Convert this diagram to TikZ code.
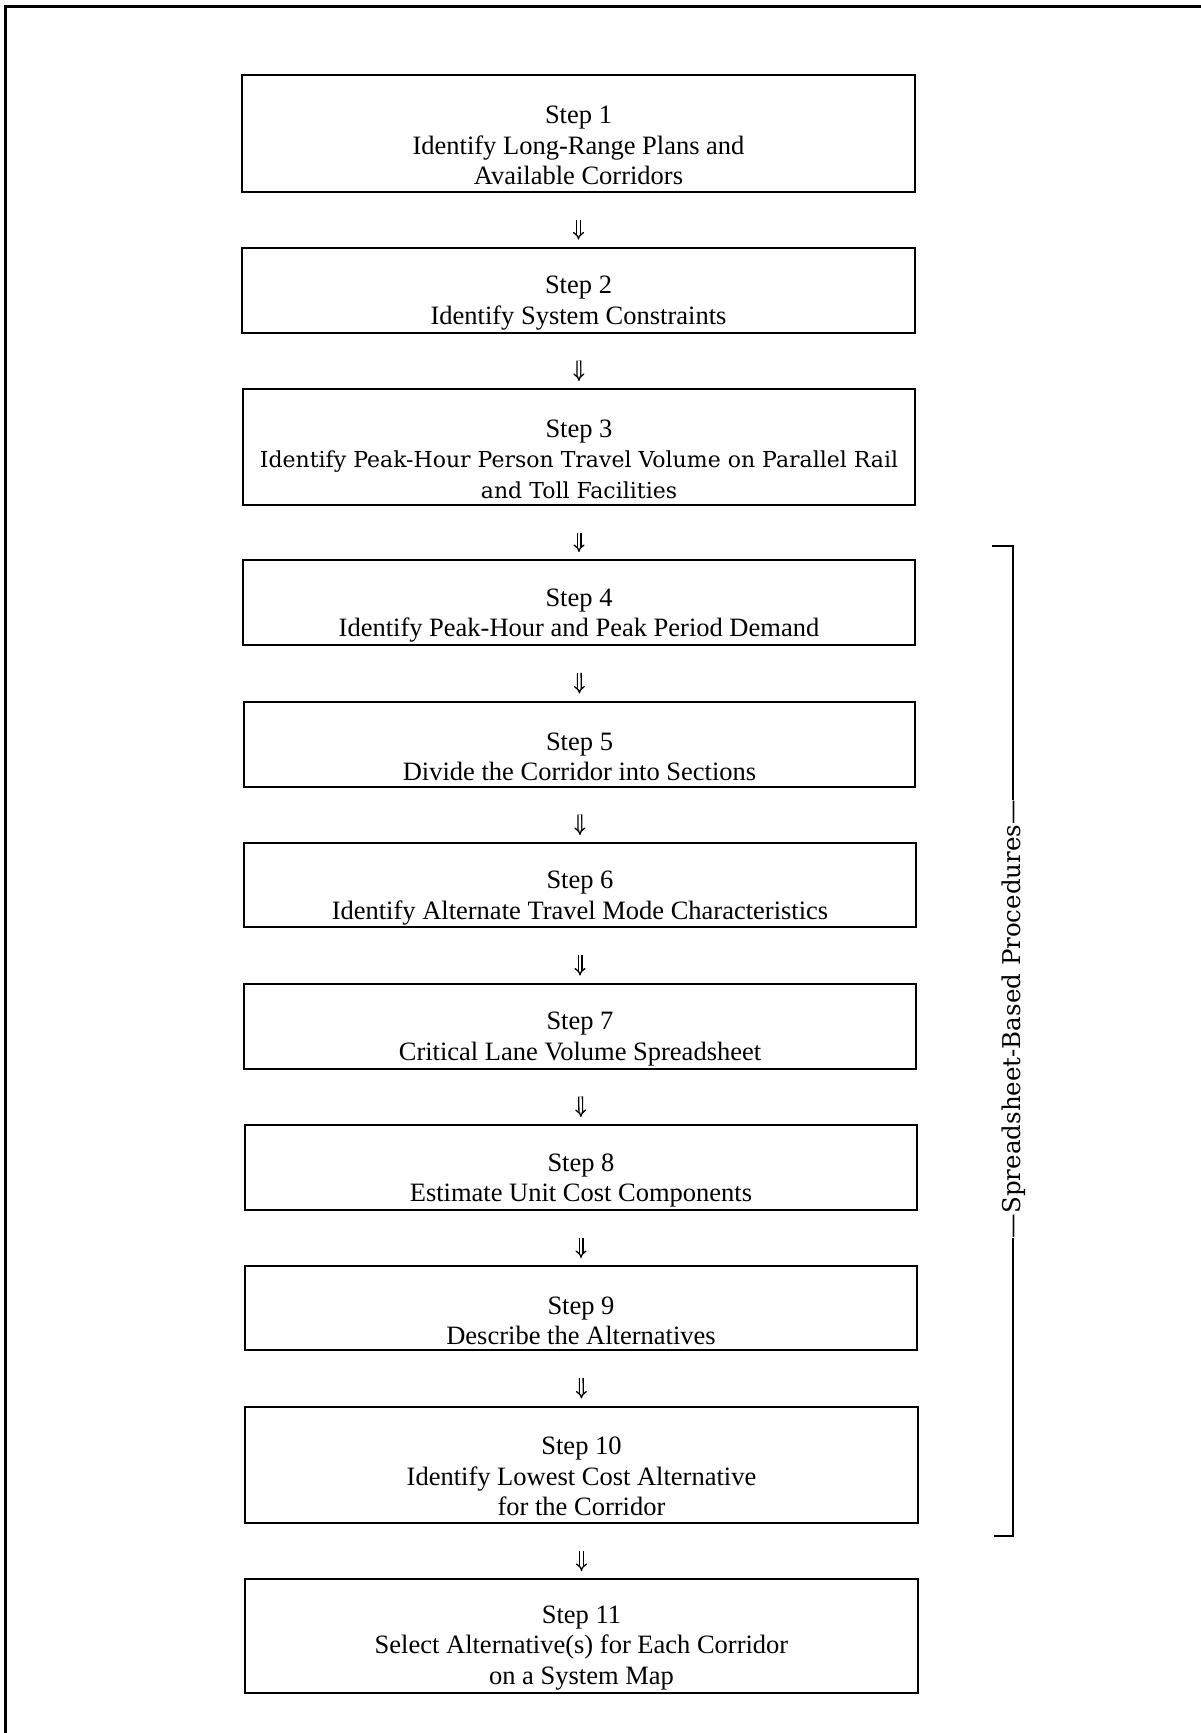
\documentclass[tikz,border=0pt]{standalone}
\usepackage{fontspec}
\setmainfont{Liberation Serif}
\newfontfamily\widefont{DejaVu Serif}
\usetikzlibrary{arrows.meta,calc}
\begin{document}
\begin{tikzpicture}[x=1pt,y=-1pt,
  stepbox/.style={draw=black, line width=2pt, rectangle, inner sep=0pt},
  steptext/.style={align=center, inner sep=0pt, font=\fontsize{26.5}{30.4}\selectfont},
  dblarrow/.style={double=white, draw=black, double distance=2.4pt, line width=1.3pt,
     shorten <=27pt, shorten >=7pt, -{Implies[length=5pt]}},
  frame/.style={line width=3pt, draw=black}]
\useasboundingbox (0,0) rectangle (1201,1733);
% outer frame (top and left only)
\coordinate (ftl) at (5,6);
\coordinate (ftr) at (1201,6);
\coordinate (fbl) at (5,1733);
\draw[frame] (ftr) -- (ftl) -- (fbl);
% boxes
\node[stepbox, minimum width=673pt, minimum height=117pt] (s1) at (578.5,133.5) {};
\node[stepbox, minimum width=673pt, minimum height=85pt] (s2) at (578.5,290) {};
\node[stepbox, minimum width=672pt, minimum height=116pt] (s3) at (579,447) {};
\node[stepbox, minimum width=672pt, minimum height=85pt] (s4) at (579,602.5) {};
\node[stepbox, minimum width=671pt, minimum height=85pt] (s5) at (579.5,744) {};
\node[stepbox, minimum width=672pt, minimum height=84pt] (s6) at (580,885) {};
\node[stepbox, minimum width=672pt, minimum height=85pt] (s7) at (580,1026) {};
\node[stepbox, minimum width=672pt, minimum height=85pt] (s8) at (581,1167.5) {};
\node[stepbox, minimum width=672pt, minimum height=84pt] (s9) at (581,1308) {};
\node[stepbox, minimum width=673pt, minimum height=116pt] (s10) at (581.5,1464.5) {};
\node[stepbox, minimum width=673pt, minimum height=114pt] (s11) at (581.5,1636) {};
% texts
\node[steptext] (t1) at ($(s1.center)+(0,12)$) {Step 1\\Identify Long-Range Plans and\\Available Corridors};
\node[steptext] (t2) at ($(s2.center)+(0,13)$) {Step 2\\Identify System Constraints};
\node[steptext] (t3) at ($(s3.center)+(0,12)$) {Step 3\\{\widefont\fontsize{22}{30.4}\selectfont Identify Peak-Hour Person Travel Volume on Parallel Rail}\\{\widefont\fontsize{22}{30.4}\selectfont and Toll Facilities}};
\node[steptext] (t4) at ($(s4.center)+(0,13)$) {Step 4\\Identify Peak-Hour and Peak Period Demand};
\node[steptext] (t5) at ($(s5.center)+(0,13)$) {Step 5\\Divide the Corridor into Sections};
\node[steptext] (t6) at ($(s6.center)+(0,13)$) {Step 6\\Identify Alternate Travel Mode Characteristics};
\node[steptext] (t7) at ($(s7.center)+(0,13)$) {Step 7\\Critical Lane Volume Spreadsheet};
\node[steptext] (t8) at ($(s8.center)+(0,13)$) {Step 8\\Estimate Unit Cost Components};
\node[steptext] (t9) at ($(s9.center)+(0,13)$) {Step 9\\Describe the Alternatives};
\node[steptext] (t10) at ($(s10.center)+(0,12)$) {Step 10\\Identify Lowest Cost Alternative\\for the Corridor};
\node[steptext] (t11) at ($(s11.center)+(0,12)$) {Step 11\\Select Alternative(s) for Each Corridor\\on a System Map};
% arrows
\foreach \a/\b in {s1/s2,s2/s3,s3/s4,s4/s5,s5/s6,s6/s7,s7/s8,s8/s9,s9/s10,s10/s11}
  \draw[dblarrow] (\a.south) -- (\b.north);
% bracket
\coordinate (bt0) at (992,546);
\coordinate (bt1) at (1013,546);
\coordinate (bb0) at (994,1536);
\coordinate (bb1) at (1013,1536);
\node[rotate=90, anchor=base, inner sep=0pt, font=\widefont\fontsize{24.5}{30}\selectfont] (lab) at (1020,1019) {—Spreadsheet-Based Procedures—};
\draw[line width=2.2pt] (bt0) -- (bt1) -- (bt1 |- lab.east);
\draw[line width=2.2pt] (bb0) -- (bb1) -- (bb1 |- lab.west);
\end{tikzpicture}
\end{document}
